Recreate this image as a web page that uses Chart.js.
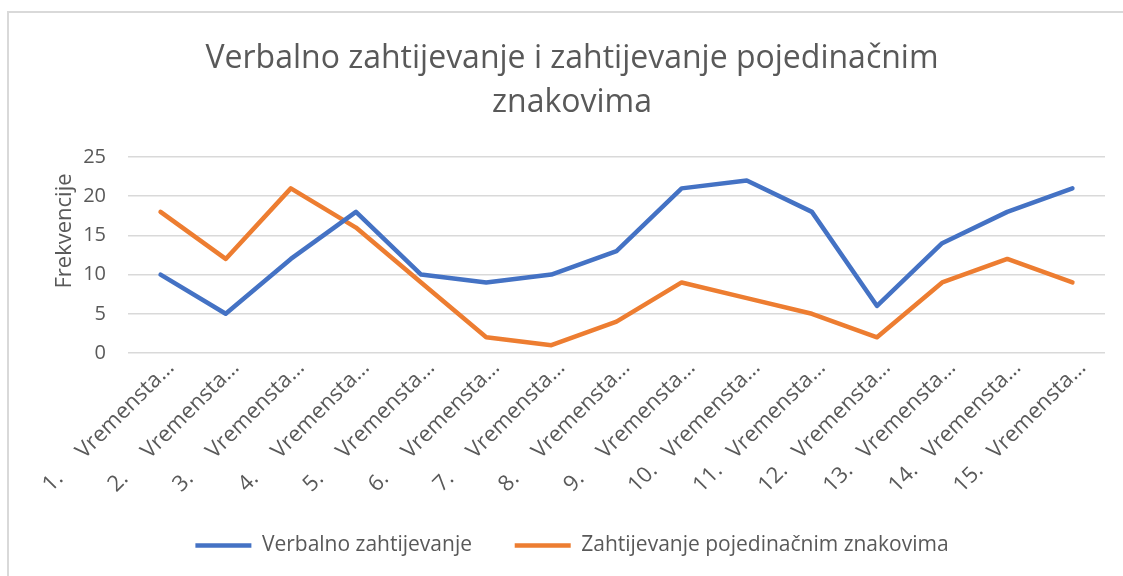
<!DOCTYPE html>
<html>
<head>
<meta charset="utf-8">
<script src="https://cdn.jsdelivr.net/npm/chart.js@4.4.1/dist/chart.umd.min.js"></script>
<style>
  html, body { margin: 0; padding: 0; background: #fff; overflow: hidden; }
  #wrap { position: relative; width: 1123px; height: 576px; overflow: hidden; }
  #frame { position: absolute; left: 7px; top: 11px; width: 1300px; height: 800px; border: 2px solid #d9d9d9; }
  canvas { position: absolute; left: 0; top: 0; }
</style>
</head>
<body>
<div id="wrap">
  <div id="frame"></div>
  <canvas id="lineChart" width="1123" height="576"></canvas>
</div>
<script>
// values
const periods = ["1.", "2.", "3.", "4.", "5.", "6.", "7.", "8.", "9.", "10.", "11.", "12.", "13.", "14.", "15."];
const periodText = "Vremensta\u2026";
const verbalno = [10, 5, 12, 18, 10, 9, 10, 13, 21, 22, 18, 6, 14, 18, 21];
const znakovi = [18, 12, 21, 16, 9, 2, 1, 4, 9, 7, 5, 2, 9, 12, 9];
const yTicks = [0, 5, 10, 15, 20, 25];

const FONT = "'Open Sans', 'Noto Sans', sans-serif";
const GREY = "#595959";

// number + tab-like gap + truncated text
const labels = periods.map(p => p + "\u00a0".repeat(p.length > 2 ? 3 : 5) + periodText);

// y axis title sits a bit above the middle of the plot, like in Excel
const yTitle = {
  id: "yTitle",
  afterDraw(chart) {
    const c = chart.ctx;
    c.save();
    c.translate(65, 231);
    c.rotate(-Math.PI / 2);
    c.fillStyle = GREY;
    c.font = "22px " + FONT;
    c.textAlign = "center";
    c.textBaseline = "middle";
    c.fillText("Frekvencije", 0, 0);
    c.restore();
  }
};

const ctx = document.getElementById("lineChart").getContext("2d");

new Chart(ctx, {
  type: "line",
  data: {
    labels: labels,
    datasets: [
      {
        label: "Verbalno zahtijevanje",
        data: verbalno,
        borderColor: "#4472C4",
        backgroundColor: "#4472C4",
        borderWidth: 4.5,
        borderCapStyle: "round",
        borderJoinStyle: "round",
        pointRadius: 0,
        tension: 0
      },
      {
        label: "Zahtijevanje pojedinačnim znakovima",
        data: znakovi,
        borderColor: "#ED7D31",
        backgroundColor: "#ED7D31",
        borderWidth: 4.5,
        borderCapStyle: "round",
        borderJoinStyle: "round",
        pointRadius: 0,
        tension: 0
      }
    ]
  },
  options: {
    responsive: false,
    animation: false,
    layout: { padding: { left: 39, right: 18, top: 0, bottom: 10 } },
    plugins: {
      title: {
        display: true,
        text: ["Verbalno zahtijevanje i zahtijevanje pojedinačnim", "znakovima"],
        color: GREY,
        font: { family: FONT, size: 32, weight: "normal", lineHeight: 1.375 },
        padding: { top: 37, bottom: 32 }
      },
      legend: {
        position: "bottom",
        labels: {
          color: GREY,
          font: { family: FONT, size: 21 },
          usePointStyle: true,
          pointStyle: "line",
          pointStyleWidth: 56,
          padding: 10,
          // wider gap between the two entries, as in Excel
          generateLabels: chart => {
            const items = Chart.defaults.plugins.legend.labels.generateLabels(chart);
            items.forEach((it, i) => {
              if (i < items.length - 1) it.text += "\u00a0".repeat(6);
            });
            return items;
          }
        }
      },
      tooltip: { enabled: false }
    },
    scales: {
      x: {
        offset: true,
        grid: { display: false },
        border: { display: false },
        ticks: {
          color: GREY,
          font: { family: FONT, size: 22 },
          autoSkip: false,
          minRotation: 45,
          maxRotation: 45,
          padding: -6,
          labelOffset: 10
        },
        afterFit: scale => { scale.height = 172; }
      },
      y: {
        min: 0,
        max: 25,
        afterBuildTicks: scale => { scale.ticks = yTicks.map(v => ({ value: v })); },
        grid: { color: "#d9d9d9", lineWidth: 1.5, drawTicks: false },
        border: { display: false },
        ticks: {
          color: GREY,
          font: { family: FONT, size: 20 },
          padding: 22
        },
        afterFit: scale => { scale.width = 89; }
      }
    }
  },
  plugins: [yTitle]
});
</script>
</body>
</html>
